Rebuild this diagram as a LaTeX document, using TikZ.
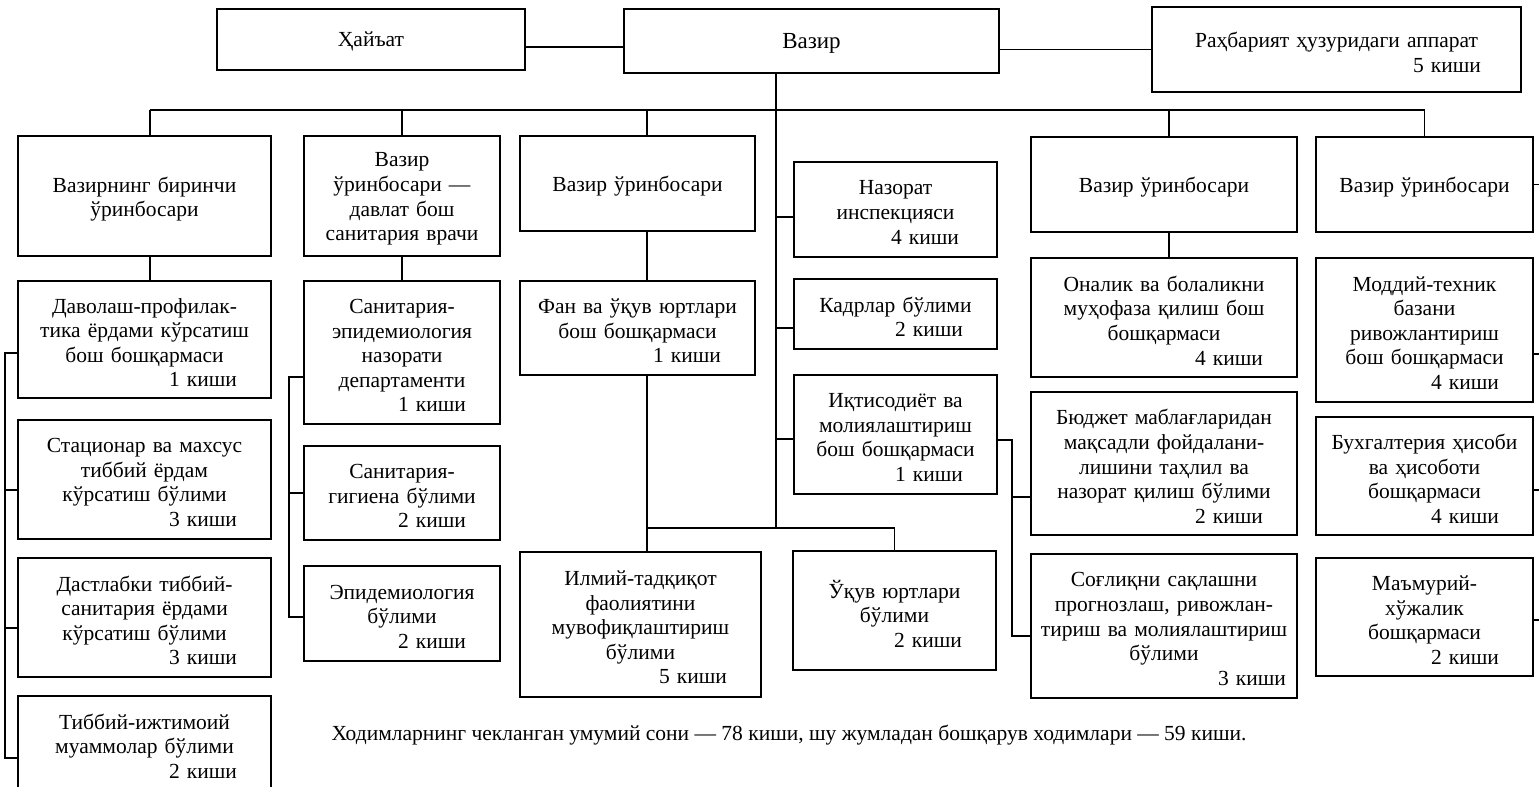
\documentclass[tikz,border=0pt]{standalone}
\usepackage{fontspec}
\setmainfont{Liberation Serif}
\usetikzlibrary{positioning}

\newcommand{\kishi}[2][15pt]{\\\hspace*{\fill}#2 киши\hspace*{#1}\null}

\begin{document}
\begin{tikzpicture}[x=0.5pt, y=-0.5pt]
      \tikzstyle{unit}=[rectangle, draw=black, line width=0.9pt, align=center, inner xsep=2pt, inner ysep=0pt, outer sep=0pt, font=\fontsize{10.75pt}{12.3pt}\selectfont, execute at end node={\endgraf\vspace*{-3pt}}]
      \tikzstyle{colA}=[unit, minimum width=126.5pt, text width=122.5pt]
      \tikzstyle{colB}=[unit, minimum width=98pt, text width=94pt]
      \tikzstyle{colC}=[unit, minimum width=117.5pt, text width=113.5pt]
      \tikzstyle{colD}=[unit, minimum width=101.5pt, text width=97.5pt]
      \tikzstyle{colE}=[unit, minimum width=133pt, text width=129pt]
      \tikzstyle{colF}=[unit, minimum width=108.5pt, text width=104.5pt]
      \tikzstyle{note}=[font=\fontsize{10.75pt}{12.3pt}\selectfont, inner sep=0pt]
      \tikzstyle{connect}=[line width=0.9pt]

      \useasboundingbox (0,0) rectangle (1539,787);

      % top row
      \node[unit, minimum width=154pt, text width=150pt, minimum height=30.5pt] (hayat) at (371,39.5) {Ҳайъат};
      \node[unit, minimum width=187.5pt, text width=183.5pt, minimum height=32pt, font=\fontsize{11.5pt}{13pt}\selectfont] (vazir) at (811.5,41) {Вазир};
      \node[unit, minimum width=184.5pt, text width=180.5pt, minimum height=42.5pt] (rahbar) at (1336.5,49.5) {Раҳбарият ҳузуридаги аппарат\kishi[18pt]{5}};

      \coordinate (top) at (776,110);
      \coordinate (low) at (776,528);
      \coordinate (c1) at (150,110);
      \coordinate (c3) at (647,110);
      \coordinate (c5) at (1169,110);
      \coordinate (lb) at (5,0);
      \coordinate (mb) at (289,0);
      \coordinate (eb) at (1012,0);
      \coordinate (rb) at (1541,0);

      % deputies
      \node[colA, minimum height=60pt] (dep1) at (144.5,196) {Вазирнинг биринчи\\ўринбосари};
      \node[colB, minimum height=60pt] (dep2) at (402,196) {Вазир\\ўринбосари —\\давлат бош\\санитария врачи};
      \node[colC, minimum height=47.5pt] (dep3) at (637.5,183.5) {Вазир ўринбосари};
      \node[colD, minimum height=47.5pt] (nazorat) at (895.5,209.5) {Назорат\\инспекцияси\kishi[17pt]{4}};
      \node[colE, minimum height=47.5pt] (dep4) at (1164,184.5) {Вазир ўринбосари};
      \node[colF, minimum height=47.5pt] (dep5) at (1424.5,184.5) {Вазир ўринбосари};

      % first column
      \node[colA, minimum height=58.5pt] (davol) [below=12.5pt of dep1] {Даволаш-профилак-\\тика ёрдами кўрсатиш\\бош бошқармаси\kishi{1}};
      \node[colA, minimum height=59.5pt] (stats) [below=11pt of davol] {Стационар ва махсус\\тиббий ёрдам\\кўрсатиш бўлими\kishi{3}};
      \node[colA, minimum height=59.5pt] (dastl) [below=9.5pt of stats] {Дастлабки тиббий-\\санитария ёрдами\\кўрсатиш бўлими\kishi{3}};
      \node[colA, minimum height=47pt] (tibbiy) [below=9.5pt of dastl] {Тиббий-ижтимоий\\муаммолар бўлими\kishi{2}};

      % second column
      \node[colB, minimum height=71.5pt] (saneped) [below=12.5pt of dep2] {Санитария-\\эпидемиология\\назорати\\департаменти\kishi{1}};
      \node[colB, minimum height=47pt] (sangig) [below=11pt of saneped] {Санитария-\\гигиена бўлими\kishi{2}};
      \node[colB, minimum height=47.5pt] (epid) [below=13pt of sangig] {Эпидемиология\\бўлими\kishi{2}};

      % third column
      \node[colC, minimum height=47pt] (fan) [below=25pt of dep3] {Фан ва ўқув юртлари\\бош бошқармаси\kishi{1}};
      \node[unit, minimum width=120.5pt, text width=116.5pt, minimum height=72.5pt] (ilmiy) at (640.5,624.5) {Илмий-тадқиқот\\фаолиятини\\мувофиқлаштириш\\бўлими\kishi{5}};
      \node[colD, minimum height=59.5pt] (uquv) at (894.5,610.5) {Ўқув юртлари\\бўлими\kishi{2}};

      % fourth column
      \node[colD, minimum height=35pt] (kadr) [below=11pt of nazorat] {Кадрлар бўлими\kishi{2}};
      \node[colD, minimum height=59.5pt] (iqtis) [below=13pt of kadr] {Иқтисодиёт ва\\молиялаштириш\\бош бошқармаси\kishi{1}};

      % fifth column
      \node[colE, minimum height=59.5pt] (onalik) [below=13pt of dep4] {Оналик ва болаликни\\муҳофаза қилиш бош\\бошқармаси\kishi{4}};
      \node[colE, minimum height=71.5pt] (budjet) [below=7.5pt of onalik] {Бюджет маблағларидан\\мақсадли фойдалани-\\лишини таҳлил ва\\назорат қилиш бўлими\kishi{2}};
      \node[colE, minimum height=72pt] (soglik) [below=9.5pt of budjet] {Соғлиқни сақлашни\\прогнозлаш, ривожлан-\\тириш ва  молиялаштириш\\бўлими\kishi[3.5pt]{3}};

      % sixth column
      \node[colF, minimum height=72pt] (moddiy) [below=13pt of dep5] {Моддий-техник\\базани\\ривожлантириш\\бош бошқармаси\kishi{4}};
      \node[colF, minimum height=59pt] (buhg) [below=7.5pt of moddiy] {Бухгалтерия ҳисоби\\ва ҳисоботи\\бошқармаси\kishi{4}};
      \node[colF, minimum height=59pt] (mamur) [below=11.5pt of buhg] {Маъмурий-\\хўжалик\\бошқармаси\kishi{2}};

      \node[note] (total) at (789,735) {Ходимларнинг чекланган умумий сони — 78 киши, шу жумладан бошқарув ходимлари — 59 киши.};

      % connections at the top
      \draw[connect] ([yshift=-3.75pt]hayat.east) -- ([yshift=-3.75pt]hayat.east -| vazir.west);
      \draw[connect] (rahbar.west) -- (rahbar.west -| vazir.east);
      \draw[connect] (vazir.south -| top) -- (low);
      \draw[connect] (c1) -- (top -| dep5.north);

      \path (c1) edge [connect] (dep1.north -| c1)
            (top -| dep2.north) edge [connect] (dep2.north)
            (c3) edge [connect] (dep3.north -| c3)
            (c5) edge [connect] (dep4.north -| c5)
            (top -| dep5.north) edge [connect] (dep5.north);

      \path (dep1.south -| c1) edge [connect] (davol.north -| c1)
            (dep2) edge [connect] (saneped)
            (dep4.south -| c5) edge [connect] (onalik.north -| c5);

      % third column
      \draw[connect] (dep3.south -| c3) -- (fan.north -| c3);
      \draw[connect] (fan.south -| c3) -- (ilmiy.north -| c3);
      \draw[connect] (c3 |- low) -| (uquv.north);

      % trunk
      \draw[connect] ([yshift=-3.75pt]nazorat.west) -- ([yshift=-3.75pt]nazorat.west -| top);
      \draw[connect] ([yshift=-7pt]kadr.west) -- ([yshift=-7pt]kadr.west -| top);
      \draw[connect] ([yshift=-2.25pt]iqtis.west) -- ([yshift=-2.25pt]iqtis.west -| top);

      % side buses
      \draw[connect] ([yshift=-6.75pt]davol.west) -| ([yshift=-7.5pt]tibbiy.west -| lb) -- ([yshift=-7.5pt]tibbiy.west);
      \draw[connect] ([yshift=-5.25pt]stats.west) -- ([yshift=-5.25pt]stats.west -| lb);
      \draw[connect] ([yshift=-5.25pt]dastl.west) -- ([yshift=-5.25pt]dastl.west -| lb);

      \draw[connect] ([yshift=-12.25pt]saneped.west) -| ([yshift=-1.75pt]epid.west -| mb) -- ([yshift=-1.75pt]epid.west);
      \draw[connect] (sangig.west) -- (sangig.west -| mb);

      \draw[connect] ([yshift=-2.75pt]iqtis.east) -| ([yshift=-5pt]soglik.west -| eb) -- ([yshift=-5pt]soglik.west);
      \draw[connect] ([yshift=-16.75pt]budjet.west) -- ([yshift=-16.75pt]budjet.west -| eb);

      \draw[connect] (dep5.east) -- (dep5.east -| rb);
      \draw[connect] ([yshift=-12pt]moddiy.east) -- ([yshift=-12pt]moddiy.east -| rb);
      \draw[connect] ([yshift=-7pt]buhg.east) -- ([yshift=-7pt]buhg.east -| rb);
      \draw[connect] ([yshift=-1.5pt]mamur.east) -- ([yshift=-1.5pt]mamur.east -| rb);
\end{tikzpicture}
\end{document}
